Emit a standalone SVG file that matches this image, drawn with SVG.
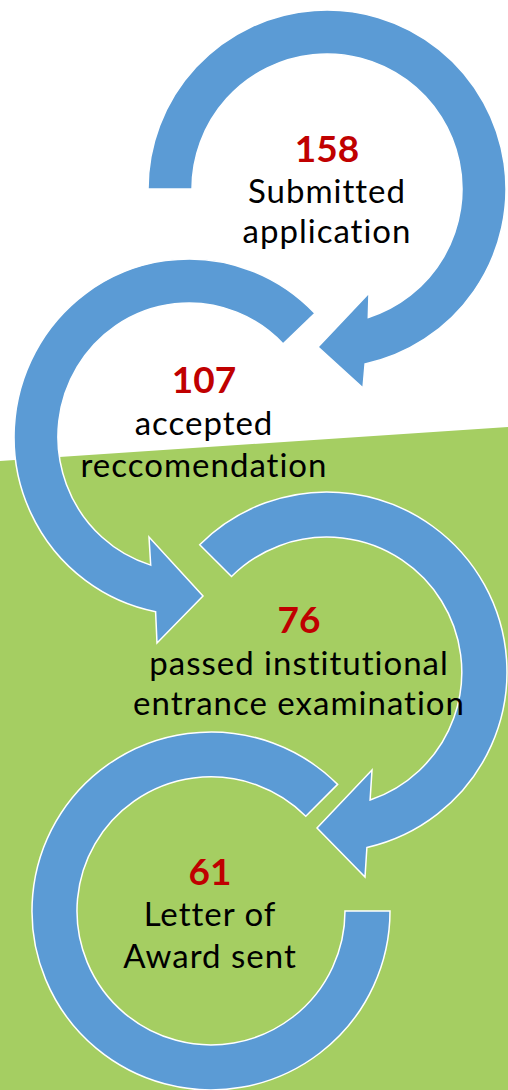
<svg xmlns="http://www.w3.org/2000/svg" width="508" height="1090" viewBox="0 0 508 1090">
  <style>
    .arc { fill: #5B9BD5; stroke: #FFFFFF; stroke-width: 1.5; stroke-linejoin: miter; }
    .num { font-family: Lato, "Open Sans", sans-serif; font-weight: bold; font-size: 37px; fill: #C00000; text-anchor: middle; }
    .lbl { font-family: Lato, "Open Sans", sans-serif; font-size: 33px; letter-spacing: 1px; fill: #000000; text-anchor: middle; }
  </style>
  <rect x="0" y="0" width="508" height="1090" fill="#FFFFFF"/>
  <polygon points="0,461 508,427 508,1090 0,1090" fill="#A5CE62"/>
  <g id="connectors">
    <path class="arc" d="M148,189 A179,179 0 1 1 365.1,363.9 L363,388 L318,347 L369,293 L368.3,317.5 A135,135 0 1 0 192,189 Z"/>
    <path class="arc" d="M314.9,313.3 A175,178 0 1 0 155.6,611.7 L157,643 L203,596 L149,537 L150.7,565.1 A131,134 0 1 1 283.2,343.9 Z"/>
    <path class="arc" d="M199.7,544.7 A180,180 0 1 1 366.9,847.5 L365,877 L317,828 L372,770 L370.1,800 A135,135 0 1 0 231.5,576.5 Z"/>
    <path class="arc" d="M337.6,784.4 A179,179 0 1 0 390,911 L345,911 A134,134 0 1 1 305.8,816.2 Z"/>
  </g>
  <g id="node-submitted">
    <text class="num" x="327" y="162">158</text>
    <text class="lbl" x="327" y="203">Submitted</text>
    <text class="lbl" x="327" y="243">application</text>
  </g>
  <g id="node-accepted">
    <text class="num" x="204" y="393">107</text>
    <text class="lbl" x="204" y="435">accepted</text>
    <text class="lbl" x="204" y="477">reccomendation</text>
  </g>
  <g id="node-passed">
    <text class="num" x="299" y="633">76</text>
    <text class="lbl" x="299" y="675">passed institutional</text>
    <text class="lbl" x="299" y="715">entrance examination</text>
  </g>
  <g id="node-award">
    <text class="num" x="210" y="885">61</text>
    <text class="lbl" x="210" y="926">Letter of</text>
    <text class="lbl" x="210" y="968">Award sent</text>
  </g>
</svg>
